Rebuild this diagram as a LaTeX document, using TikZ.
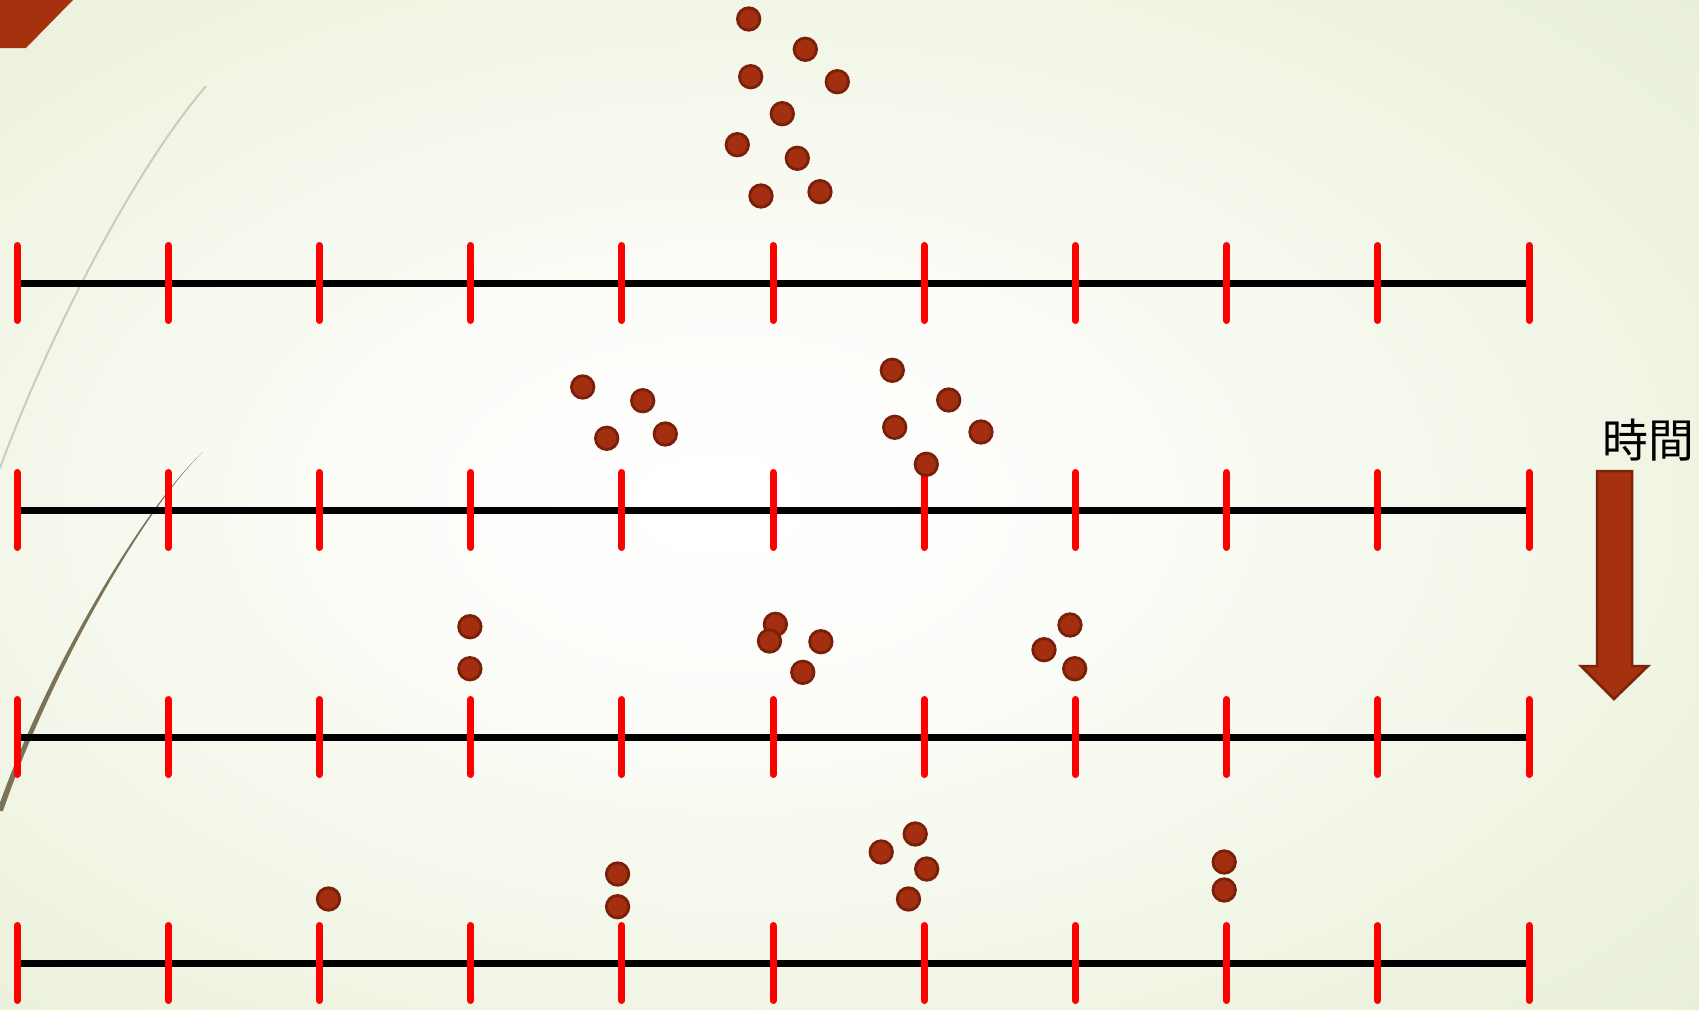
\documentclass[tikz,border=0pt]{standalone}
\usepackage{fontspec}
\newfontfamily\cjk{Noto Sans CJK JP}
\definecolor{bgout}{RGB}{222,230,198}
\definecolor{bgmid}{RGB}{236,242,221}
\definecolor{bgin}{RGB}{252,253,249}
\definecolor{dotfill}{RGB}{163,46,16}
\definecolor{dotline}{RGB}{122,32,10}
\definecolor{accent}{RGB}{165,49,15}
\definecolor{accentline}{RGB}{125,35,10}
\definecolor{curvelight}{RGB}{204,205,183}
\definecolor{curvedark}{RGB}{124,114,88}
\pgfdeclareradialshading{bgshade}{\pgfpoint{-4bp}{0bp}}{color(0bp)=(white); color(10bp)=(bgin); color(32bp)=(bgmid); color(56bp)=(bgout); color(75bp)=(bgout)}
\tikzset{
  dot/.style={circle, minimum size=22.5bp, inner sep=0pt, fill=dotfill, draw=dotline, line width=2.8bp},
  axisline/.style={black, line width=7bp},
  tickmark/.style={red, line width=7bp, line cap=round},
}
\begin{document}
\begin{tikzpicture}[x=1bp,y=-1bp]
\useasboundingbox (0,0) rectangle (1699,1009);
\fill[shading=bgshade] (0,0) rectangle (1699,1009);
% corner accent
\fill[accent] (0,0) -- (73,0) -- (26,48) -- (0,48) -- cycle;
% decorative curves
\draw[curvelight, line width=2bp] (206,86) .. controls (130,175) and (45,345) .. (0,468);
\fill[curvedark] (203,452) .. controls (150,500) and (50,660) .. (-3,811) -- (3,811) .. controls (54,662) and (151,501) .. (203,452) -- cycle;
% number lines
\foreach \r/\yy in {1/283, 2/510, 3/737, 4/963} {
  \foreach \k in {0,...,10} {
    \coordinate (p\r-\k) at ({17+151.2*\k},\yy);
  }
  \draw[axisline] (p\r-0) -- (p\r-10);
  \foreach \k in {0,...,10} {
    \draw[tickmark] ([yshift=37.5bp]p\r-\k) -- ([yshift=-37.5bp]p\r-\k);
  }
}
% dots row 1
\foreach \x/\y [count=\i] in {748.7/19, 805.3/49.3, 750.7/76.7, 837.3/81.7, 782.3/113.7, 737.3/144.7, 797.3/158.3, 761/196, 820/191.7}
  \node[dot] (a\i) at (\x,\y) {};
% dots row 2
\foreach \x/\y [count=\i] in {582.7/387, 642.7/400.7, 606.7/438.3, 665.3/434, 892.3/370.3, 948.7/400, 894.7/427.3, 981/432, 926.3/464.3}
  \node[dot] (b\i) at (\x,\y) {};
% dots row 3
\foreach \x/\y [count=\i] in {469.9/626.7, 469.9/668.7, 775.4/624.3, 769.5/641, 820.9/641.7, 802.8/672.3, 1070/625, 1044/649.7, 1074.7/668.7}
  \node[dot] (c\i) at (\x,\y) {};
% dots row 4
\foreach \x/\y [count=\i] in {328.5/899, 617.6/874, 617.6/906.7, 915.2/834, 881.2/852, 926.7/869, 908.5/899, 1224.2/862, 1224.2/890}
  \node[dot] (e\i) at (\x,\y) {};
% time label and arrow
\node[font=\cjk\fontsize{46}{52}\selectfont, inner sep=0pt] (t) at (1648,440) {時間};
\filldraw[fill=accent, draw=accentline, line width=2.5bp, line join=miter]
  (1597,471) -- (1632,471) -- (1632,666) -- (1648,666) -- (1614,699) -- (1581,666) -- (1597,666) -- cycle;
\end{tikzpicture}
\end{document}
